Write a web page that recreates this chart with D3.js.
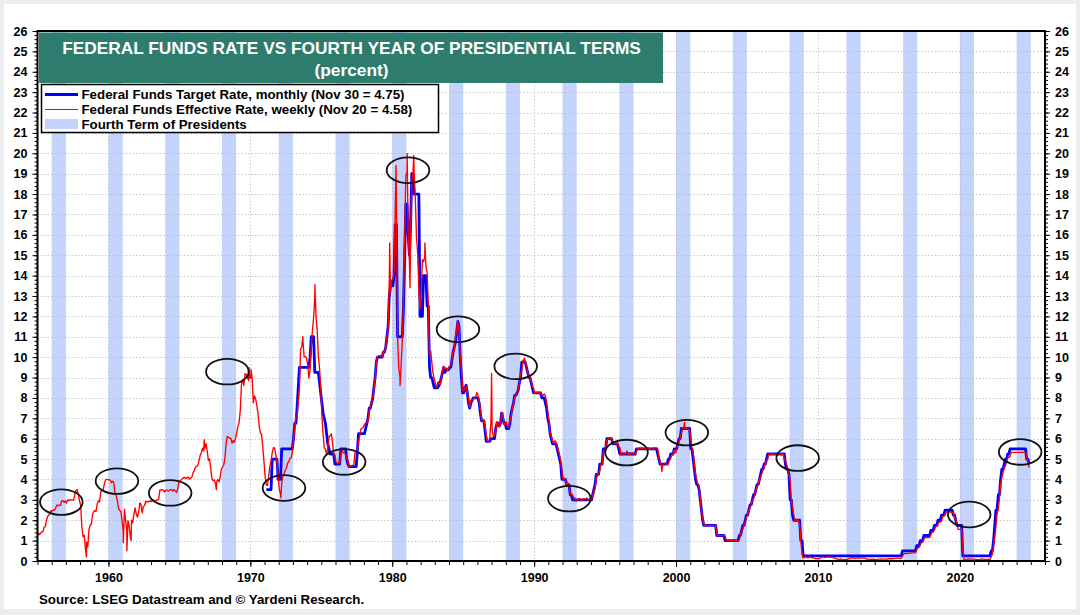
<!DOCTYPE html>
<html><head><meta charset="utf-8">
<script src="https://cdn.jsdelivr.net/npm/d3@7"></script>
<style>
body{margin:0;background:#ececec;}
svg{display:block;}
text{font-family:"Liberation Sans",Arial,Helvetica,sans-serif;}
</style>
</head><body>
<svg id="chart" width="1080" height="615"></svg>
<script>
// ---------------- DATA ----------------
const titleLines = ["FEDERAL FUNDS RATE VS FOURTH YEAR OF PRESIDENTIAL TERMS", "(percent)"];
const legendLabels = [
  "Federal Funds Target Rate, monthly (Nov 30 = 4.75)",
  "Federal Funds Effective Rate, weekly (Nov 20 = 4.58)",
  "Fourth Term of Presidents"
];
const sourceText = "Source: LSEG Datastream and \u00A9 Yardeni Research.";
const electionYears = [1956,1960,1964,1968,1972,1976,1980,1984,1988,1992,1996,2000,2004,2008,2012,2016,2020,2024];
const yTickValues = [0,1,2,3,4,5,6,7,8,9,10,11,12,13,14,15,16,17,18,19,20,21,22,23,24,25,26];
const xTickLabels = [1960,1970,1980,1990,2000,2010,2020];

// Effective rate, monthly averages starting Jan 1955
const effectiveStartYear = 1955;
const effectiveMonthly = [
 1.39,1.29,1.35,1.43,1.43,1.64,1.68,1.96,2.18,2.24,2.35,2.48,
 2.45,2.50,2.50,2.62,2.75,2.71,2.75,2.73,2.95,2.96,2.88,2.94,
 2.84,3.00,2.96,3.00,3.00,3.00,2.99,3.24,3.47,3.50,3.28,2.98,
 2.72,1.67,1.20,1.26,0.63,0.93,0.68,1.53,1.76,1.80,2.27,2.42,
 2.48,2.43,2.80,2.96,2.90,3.39,3.47,3.50,3.76,3.98,4.00,3.99,
 3.99,3.97,3.84,3.92,3.85,3.32,3.23,2.98,2.60,2.47,2.44,1.98,
 1.45,2.54,2.02,1.49,1.98,1.73,1.17,2.00,1.88,2.26,2.61,2.33,
 2.15,2.37,2.85,2.78,2.36,2.68,2.71,2.93,2.90,2.90,2.94,2.93,
 2.92,3.00,2.98,2.90,3.00,2.99,3.02,3.49,3.48,3.50,3.48,3.38,
 3.48,3.48,3.43,3.47,3.50,3.50,3.42,3.50,3.45,3.36,3.52,3.85,
 3.90,3.98,4.04,4.09,4.10,4.04,4.09,4.12,4.01,4.08,4.10,4.32,
 4.42,4.60,4.65,4.67,4.90,5.17,5.30,5.53,5.40,5.53,5.76,5.40,
 4.94,5.00,4.53,4.05,3.94,3.98,3.79,3.90,3.99,3.88,4.13,4.51,
 4.61,4.71,5.05,5.76,6.11,6.07,6.02,6.03,5.78,5.91,5.82,6.02,
 6.30,6.61,6.79,7.41,8.67,8.90,8.61,9.19,9.15,9.00,8.85,8.97,
 8.98,8.98,7.76,8.10,7.95,7.61,7.21,6.61,6.29,6.20,5.60,4.90,
 4.14,3.72,3.71,4.16,4.63,4.91,5.31,5.56,5.55,5.20,4.91,4.14,
 3.50,3.29,3.83,4.17,4.27,4.46,4.55,4.80,4.87,5.04,5.06,5.33,
 5.94,6.58,7.09,7.12,7.84,8.49,10.40,10.50,10.78,10.01,10.03,9.95,
 9.65,8.97,9.35,10.51,11.31,11.93,12.92,12.01,11.34,10.06,9.45,8.53,
 7.13,6.24,5.54,5.49,5.22,5.55,6.10,6.14,6.24,5.82,5.22,5.20,
 4.87,4.77,4.84,4.82,5.29,5.48,5.31,5.29,5.25,5.02,4.95,4.65,
 4.61,4.68,4.69,4.73,5.35,5.39,5.42,5.90,6.14,6.47,6.51,6.56,
 6.70,6.78,6.79,6.89,7.36,7.60,7.81,8.04,8.45,8.96,9.76,10.03,
 10.07,10.06,10.09,10.01,10.24,10.29,10.47,10.94,11.43,13.77,13.18,13.78,
 13.82,14.13,17.19,17.61,10.98,9.47,9.03,9.61,10.87,12.81,15.85,18.90,
 19.08,15.93,14.70,15.72,18.52,19.10,19.04,17.82,15.87,15.08,13.31,12.37,
 13.22,14.78,14.68,14.94,14.45,14.15,12.59,10.12,10.31,9.71,9.20,8.95,
 8.68,8.51,8.77,8.80,8.63,8.98,9.37,9.56,9.45,9.48,9.34,9.47,
 9.56,9.59,9.91,10.29,10.32,11.06,11.23,11.64,11.30,9.99,9.43,8.38,
 8.35,8.50,8.58,8.27,7.97,7.53,7.88,7.90,7.92,7.99,8.05,8.27,
 8.14,7.86,7.48,6.99,6.85,6.92,6.56,6.17,5.89,5.85,6.04,6.91,
 6.43,6.10,6.13,6.37,6.85,6.73,6.58,6.73,7.22,7.29,6.69,6.77,
 6.83,6.58,6.58,6.87,7.09,7.51,7.75,8.01,8.19,8.30,8.35,8.76,
 9.12,9.36,9.85,9.84,9.81,9.53,9.24,8.99,9.02,8.84,8.55,8.45,
 8.23,8.24,8.28,8.26,8.18,8.29,8.15,8.13,8.20,8.11,7.81,7.31,
 6.91,6.25,6.12,5.91,5.78,5.90,5.82,5.66,5.45,5.21,4.81,4.43,
 4.03,4.06,3.98,3.73,3.82,3.76,3.25,3.30,3.22,3.10,3.09,2.92,
 3.02,3.03,3.07,2.96,3.00,3.04,3.06,3.03,3.09,2.99,3.02,2.96,
 3.05,3.25,3.34,3.56,4.01,4.25,4.26,4.47,4.73,4.76,5.29,5.45,
 5.53,5.92,5.98,6.05,6.01,6.00,5.85,5.74,5.80,5.76,5.80,5.60,
 5.56,5.22,5.31,5.22,5.24,5.27,5.40,5.22,5.30,5.24,5.31,5.29,
 5.25,5.19,5.39,5.51,5.50,5.56,5.52,5.54,5.54,5.50,5.52,5.50,
 5.56,5.51,5.49,5.45,5.49,5.56,5.54,5.55,5.51,5.07,4.83,4.68,
 4.63,4.76,4.81,4.74,4.74,4.76,4.99,5.07,5.22,5.20,5.42,5.30,
 5.45,5.73,5.85,6.02,6.27,6.53,6.54,6.50,6.52,6.51,6.51,6.40,
 5.98,5.49,5.31,4.80,4.21,3.97,3.77,3.65,3.07,2.49,2.09,1.82,
 1.73,1.74,1.73,1.75,1.75,1.75,1.73,1.74,1.75,1.75,1.34,1.24,
 1.24,1.26,1.25,1.26,1.26,1.22,1.01,1.03,1.01,1.01,1.00,0.98,
 1.00,1.01,1.00,1.00,1.00,1.03,1.26,1.43,1.61,1.76,1.93,2.16,
 2.28,2.50,2.63,2.79,3.00,3.04,3.26,3.50,3.62,3.78,4.00,4.16,
 4.29,4.49,4.59,4.79,4.94,4.99,5.24,5.25,5.25,5.25,5.25,5.24,
 5.25,5.26,5.26,5.25,5.25,5.25,5.26,5.02,4.94,4.76,4.49,4.24,
 3.94,2.98,2.61,2.28,1.98,2.00,2.01,2.00,1.81,0.97,0.39,0.16,
 0.15,0.22,0.18,0.15,0.18,0.21,0.16,0.16,0.15,0.12,0.12,0.12,
 0.11,0.13,0.16,0.20,0.20,0.18,0.18,0.19,0.19,0.19,0.19,0.18,
 0.17,0.16,0.14,0.10,0.09,0.09,0.07,0.10,0.08,0.07,0.08,0.07,
 0.08,0.10,0.13,0.14,0.16,0.16,0.16,0.13,0.14,0.16,0.16,0.16,
 0.14,0.15,0.14,0.15,0.11,0.09,0.09,0.08,0.08,0.09,0.08,0.09,
 0.07,0.07,0.08,0.09,0.09,0.10,0.09,0.09,0.09,0.09,0.09,0.12,
 0.11,0.11,0.11,0.12,0.12,0.13,0.13,0.14,0.14,0.12,0.12,0.24,
 0.34,0.38,0.36,0.37,0.37,0.38,0.39,0.40,0.40,0.40,0.41,0.54,
 0.65,0.66,0.79,0.90,0.91,1.04,1.15,1.16,1.15,1.15,1.16,1.30,
 1.41,1.42,1.51,1.69,1.70,1.82,1.91,1.91,1.95,2.19,2.20,2.27,
 2.40,2.40,2.41,2.42,2.39,2.38,2.40,2.13,2.04,1.83,1.55,1.55,
 1.55,1.58,0.65,0.05,0.05,0.08,0.09,0.10,0.09,0.09,0.09,0.09,
 0.09,0.08,0.07,0.07,0.06,0.08,0.10,0.09,0.08,0.08,0.08,0.08,
 0.08,0.08,0.20,0.33,0.77,1.21,1.68,2.33,2.56,3.08,3.78,4.10,
 4.33,4.57,4.65,4.83,5.06,5.08,5.12,5.33,5.33,5.33,5.33,5.33,
 5.33,5.33,5.33,5.33,5.33,5.33,5.33,5.33,5.13,4.83
];
// Weekly extremes: [decimal year, percent]
const effectiveWeeklyExtremes = [
 [1958.45,0.2],[1961.05,0.9],[1961.3,0.5],[1961.6,1.0],[1966.75,5.95],[1967.6,3.5],
 [1969.9,9.5],[1970.05,9.4],[1972.15,3.1],[1973.7,11.0],[1974.55,13.55],
 [1979.82,15.6],[1980.27,19.4],[1980.55,8.6],[1981.05,20.0],[1981.25,13.4],[1981.52,19.9],
 [1982.3,15.6],[1984.6,11.8],[1987.0,9.2],[1989.3,9.95],[1999.0,4.4],[2000.6,6.8],
 [2024.89,4.58]
];

// Target rate, month-end values starting Feb 1971
const targetStartYear = 1971, targetStartMonth = 1;
const targetMonthly = [
 3.5,3.5,3.5,3.5,3.5,5.0,5.0,5.0,5.0,5.0,4.0,
 4.0,4.0,5.5,5.5,5.5,5.5,5.5,5.5,5.5,5.5,5.5,5.5,
 6.0,6.75,6.75,7.5,8.5,9.5,9.5,9.5,9.5,9.5,9.5,9.5,
 9.5,9.5,10.0,11.0,11.0,11.0,9.25,9.25,9.25,9.25,8.75,8.25,
 7.75,7.25,7.0,6.75,6.25,5.75,5.5,5.25,5.25,5.25,5.25,4.75,
 4.75,4.75,4.75,4.75,5.5,5.5,5.5,5.5,5.5,5.0,4.75,4.625,
 4.625,4.625,4.625,4.625,4.625,4.625,5.375,6.25,6.25,6.25,6.25,6.25,
 6.25,6.5,6.75,7.0,7.5,7.5,7.75,8.0,8.5,9.0,9.75,10.0,
 10.0,10.0,10.0,10.0,10.25,10.25,10.5,11.0,11.5,13.0,13.5,13.5,
 13.5,14.0,16.5,16.5,11.0,11.0,11.0,11.0,11.0,12.5,15.0,17.5,
 17.5,16.0,15.0,16.5,19.0,19.0,18.0,18.0,18.0,18.0,18.0,12.0,
 12.0,12.0,14.0,14.0,14.0,12.5,12.5,9.5,9.0,9.0,8.75,8.5,
 8.5,8.5,8.5,8.625,8.75,9.0,9.25,9.5,9.25,9.375,9.375,9.375,
 9.5,9.5,9.875,10.25,10.5,10.75,11.25,11.75,11.5,10.0,9.0,8.25,
 8.25,8.5,8.625,8.25,7.75,7.5,7.75,7.875,8.0,8.0,8.0,8.0,
 8.0,7.75,7.25,6.875,6.875,6.875,6.375,5.875,5.875,5.875,5.875,6.0,
 6.0,6.0,6.0,6.5,6.75,6.75,6.625,6.75,7.25,7.0,6.75,6.75,
 6.5,6.5,6.5,6.75,7.25,7.5,7.75,8.125,8.125,8.25,8.375,8.75,
 9.0,9.75,9.75,9.75,9.75,9.5,9.25,9.0,9.0,8.75,8.5,8.25,
 8.25,8.25,8.25,8.25,8.25,8.25,8.0,8.0,8.0,7.75,7.5,7.0,
 6.75,6.25,6.0,5.75,5.75,5.75,5.75,5.5,5.25,5.0,4.75,4.0,
 4.0,4.0,4.0,3.75,3.75,3.75,3.25,3.25,3.0,3.0,3.0,3.0,
 3.0,3.0,3.0,3.0,3.0,3.0,3.0,3.0,3.0,3.0,3.0,3.0,
 3.0,3.25,3.5,3.75,4.25,4.25,4.25,4.75,4.75,4.75,5.5,5.5,
 5.5,6.0,6.0,6.0,6.0,6.0,5.75,5.75,5.75,5.75,5.75,5.5,
 5.25,5.25,5.25,5.25,5.25,5.25,5.25,5.25,5.25,5.25,5.25,5.25,
 5.25,5.25,5.5,5.5,5.5,5.5,5.5,5.5,5.5,5.5,5.5,5.5,
 5.5,5.5,5.5,5.5,5.5,5.5,5.5,5.5,5.25,5.0,4.75,4.75,
 4.75,4.75,4.75,4.75,4.75,5.0,5.0,5.25,5.25,5.25,5.5,5.5,
 5.5,5.75,6.0,6.0,6.5,6.5,6.5,6.5,6.5,6.5,6.5,6.5,
 5.5,5.5,5.0,4.5,4.0,3.75,3.75,3.5,3.0,2.5,2.0,1.75,
 1.75,1.75,1.75,1.75,1.75,1.75,1.75,1.75,1.75,1.75,1.25,1.25,
 1.25,1.25,1.25,1.25,1.25,1.0,1.0,1.0,1.0,1.0,1.0,1.0,
 1.0,1.0,1.0,1.0,1.0,1.25,1.25,1.5,1.75,1.75,2.0,2.25,
 2.25,2.5,2.75,2.75,3.0,3.25,3.25,3.5,3.75,3.75,4.0,4.25,
 4.5,4.5,4.75,4.75,5.0,5.25,5.25,5.25,5.25,5.25,5.25,5.25,
 5.25,5.25,5.25,5.25,5.25,5.25,5.25,5.25,4.75,4.5,4.5,4.25,
 3.0,3.0,2.25,2.0,2.0,2.0,2.0,2.0,2.0,1.0,1.0,0.25,
 0.25,0.25,0.25,0.25,0.25,0.25,0.25,0.25,0.25,0.25,0.25,0.25,
 0.25,0.25,0.25,0.25,0.25,0.25,0.25,0.25,0.25,0.25,0.25,0.25,
 0.25,0.25,0.25,0.25,0.25,0.25,0.25,0.25,0.25,0.25,0.25,0.25,
 0.25,0.25,0.25,0.25,0.25,0.25,0.25,0.25,0.25,0.25,0.25,0.25,
 0.25,0.25,0.25,0.25,0.25,0.25,0.25,0.25,0.25,0.25,0.25,0.25,
 0.25,0.25,0.25,0.25,0.25,0.25,0.25,0.25,0.25,0.25,0.25,0.25,
 0.25,0.25,0.25,0.25,0.25,0.25,0.25,0.25,0.25,0.25,0.25,0.5,
 0.5,0.5,0.5,0.5,0.5,0.5,0.5,0.5,0.5,0.5,0.5,0.75,
 0.75,0.75,1.0,1.0,1.0,1.25,1.25,1.25,1.25,1.25,1.25,1.5,
 1.5,1.5,1.75,1.75,1.75,2.0,2.0,2.0,2.25,2.25,2.25,2.5,
 2.5,2.5,2.5,2.5,2.5,2.5,2.25,2.25,2.0,1.75,1.75,1.75,
 1.75,1.75,0.25,0.25,0.25,0.25,0.25,0.25,0.25,0.25,0.25,0.25,
 0.25,0.25,0.25,0.25,0.25,0.25,0.25,0.25,0.25,0.25,0.25,0.25,
 0.25,0.25,0.5,0.5,1.0,1.75,2.5,2.5,3.25,3.25,4.0,4.5,
 4.5,4.75,5.0,5.0,5.25,5.25,5.5,5.5,5.5,5.5,5.5,5.5,
 5.5,5.5,5.5,5.5,5.5,5.5,5.5,5.5,5.0,5.0,4.75
];

// Circled fourth-year episodes: [decimal year, percent] (centres)
const circledEpisodes = [
 [1956.68,2.89],[1960.6,3.92],[1964.35,3.34],[1968.38,9.29],[1972.37,3.58],
 [1976.61,4.86],[1981.11,19.17],[1984.63,11.37],[1988.7,9.55],[1992.48,3.06],
 [1996.51,5.32],[2000.76,6.30],[2008.57,5.05],[2020.66,2.28],[2024.25,5.35]
];

// ---------------- LAYOUT ----------------
const svg = d3.select("#chart");
const W = 1080, H = 615;
const L = 37.5, R = 1045, T = 31, B = 561;
const x = d3.scaleLinear().domain([1955, 2026]).range([L, R]);
const y = d3.scaleLinear().domain([0, 26]).range([B, T]);
const FONT = '"Liberation Sans",Arial,sans-serif';

svg.append("rect").attr("x",0).attr("y",0).attr("width",W).attr("height",H).attr("fill","#ececec");
svg.append("rect").attr("x",4).attr("y",4).attr("width",1072).attr("height",605).attr("fill","#ffffff");

// fourth-year bars
svg.append("g").selectAll("rect").data(electionYears).join("rect")
  .attr("x", d => x(d)).attr("y", T)
  .attr("width", d => x(d + 1) - x(d)).attr("height", B - T)
  .attr("fill", "#c4d3fb");

// grid
const grid = svg.append("g").attr("stroke","#bdbdbd").attr("stroke-width",1).attr("stroke-dasharray","1.2,2.2");
grid.selectAll("line.h").data(yTickValues.filter(v => v > 0 && v < 26)).join("line")
  .attr("x1", L).attr("x2", R).attr("y1", d => Math.round(y(d)) + 0.5).attr("y2", d => Math.round(y(d)) + 0.5);
grid.selectAll("line.v").data(xTickLabels).join("line")
  .attr("y1", T).attr("y2", B).attr("x1", d => Math.round(x(d)) + 0.5).attr("x2", d => Math.round(x(d)) + 0.5);

// series
const redPts = effectiveMonthly.map((v, i) => [effectiveStartYear + (i + 0.5) / 12, v])
  .concat(effectiveWeeklyExtremes).sort((a, b) => a[0] - b[0]);
const bluePts = targetMonthly.map((v, i) => [targetStartYear + (targetStartMonth + i + 0.5) / 12, v]);
const line = d3.line().x(d => x(d[0])).y(d => y(d[1]));

svg.append("path").datum(bluePts).attr("d", line).attr("fill","none")
  .attr("stroke","#0000ff").attr("stroke-width",2.8).attr("stroke-linejoin","round");
svg.append("path").datum(redPts).attr("d", line).attr("fill","none")
  .attr("stroke","#ff0000").attr("stroke-width",1.35).attr("stroke-linejoin","round");

// ellipses
svg.append("g").selectAll("ellipse").data(circledEpisodes).join("ellipse")
  .attr("cx", d => x(d[0])).attr("cy", d => y(d[1]))
  .attr("rx", 21.3).attr("ry", 12.8)
  .attr("fill","none").attr("stroke","#111").attr("stroke-width",1.8);

// axes
function styleAxis(g) {
  g.select(".domain").remove();
  g.selectAll(".tick line").attr("stroke","#000").attr("stroke-width",1);
  g.selectAll("text").attr("fill","#000").style("font-size","12.5px").style("font-weight","bold")
    .style("font-family",FONT);
}
const minorY = d3.range(0, 130.5, 1).map(i => i / 5);
const minorX = d3.range(1955, 2027, 1);

svg.append("g").attr("transform",`translate(${L},0)`)
  .call(d3.axisLeft(y).tickValues(minorY).tickSize(3).tickFormat("")).call(styleAxis);
svg.append("g").attr("transform",`translate(${L},0)`)
  .call(d3.axisLeft(y).tickValues(yTickValues).tickSize(5).tickPadding(5).tickFormat(d3.format("d"))).call(styleAxis);
svg.append("g").attr("transform",`translate(${R},0)`)
  .call(d3.axisRight(y).tickValues(minorY).tickSize(3).tickFormat("")).call(styleAxis);
svg.append("g").attr("transform",`translate(${R},0)`)
  .call(d3.axisRight(y).tickValues(yTickValues).tickSize(5).tickPadding(5).tickFormat(d3.format("d"))).call(styleAxis);
svg.append("g").attr("transform",`translate(0,${B})`)
  .call(d3.axisBottom(x).tickValues(minorX).tickSize(4).tickFormat("")).call(styleAxis);
svg.append("g").attr("transform",`translate(0,${B})`)
  .call(d3.axisBottom(x).tickValues(xTickLabels).tickSize(6).tickPadding(6).tickFormat(d3.format("d"))).call(styleAxis);

// frame
svg.append("rect").attr("x",L).attr("y",T).attr("width",R-L).attr("height",B-T)
  .attr("fill","none").attr("stroke","#000").attr("stroke-width",2);

// title box
svg.append("rect").attr("x",39).attr("y",32.5).attr("width",624).attr("height",50.5).attr("fill","#2e7c6e");
svg.append("text").attr("x",351.5).attr("y",53.5).attr("text-anchor","middle").attr("fill","#fff")
  .style("font-size","17.3px").style("font-weight","bold").text(titleLines[0]);
svg.append("text").attr("x",351.5).attr("y",75.5).attr("text-anchor","middle").attr("fill","#fff")
  .style("font-size","17.3px").style("font-weight","bold").text(titleLines[1]);

// legend
svg.append("rect").attr("x",41.5).attr("y",84.5).attr("width",397).attr("height",48)
  .attr("fill","#fff").attr("stroke","#000").attr("stroke-width",1.5);
svg.append("line").attr("x1",45).attr("x2",78).attr("y1",94.5).attr("y2",94.5).attr("stroke","#0000ff").attr("stroke-width",3);
svg.append("line").attr("x1",45).attr("x2",78).attr("y1",109.5).attr("y2",109.5).attr("stroke","#ff0000").attr("stroke-width",1.2);
svg.append("rect").attr("x",45).attr("y",119).attr("width",33).attr("height",10).attr("fill","#c4d3fb");
legendLabels.forEach((t, i) => {
  svg.append("text").attr("x",81.5).attr("y",99 + i * 15).attr("fill","#000")
    .style("font-size","13.3px").style("font-weight","bold").text(t);
});

// source
svg.append("text").attr("x",39).attr("y",603.5).attr("fill","#000")
  .style("font-size","13.3px").style("font-weight","bold").text(sourceText);
</script>
</body></html>
